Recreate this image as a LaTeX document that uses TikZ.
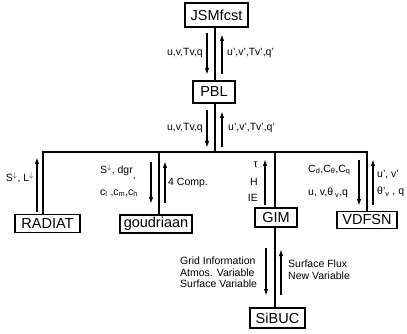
\documentclass[tikz,border=0pt]{standalone}
\usepackage{fontspec}
\setmainfont{Liberation Sans}
\usetikzlibrary{arrows.meta}
\begin{document}
\begin{tikzpicture}[x=1pt,y=-1pt,
  box/.style={draw,line width=1.8pt,inner sep=0pt,font=\fontsize{14.5}{16}\selectfont},
  lbl/.style={inner sep=0pt,font=\fontsize{10.5}{11.5}\selectfont},
  conn/.style={line width=1.5pt},
  flow/.style={line width=1.6pt,-{Latex[length=7pt,width=4.5pt]}}]
\useasboundingbox (0,0) rectangle (407,334);
% boxes
\node[box,minimum width=63pt,minimum height=24pt] (JSM) at (216.5,15) {JSMfcst};
\node[box,minimum width=42pt,minimum height=22pt] (PBL) at (214,92) {PBL};
\node[box,minimum width=65pt,minimum height=18pt] (RAD) at (47.5,223.5) {RADIAT};
\node[box,minimum width=72pt,minimum height=18pt] (GOU) at (156,224) {goudriaan};
\node[box,minimum width=42pt,minimum height=19pt] (GIM) at (276,217.5) {GIM};
\node[box,minimum width=60pt,minimum height=17pt] (VDF) at (367,220) {VDFSN};
\node[box,minimum width=55pt,minimum height=20pt] (SIB) at (277.5,318) {SiBUC};
% bus
\coordinate (b0) at (215,152);
\coordinate (b1) at (43,152);
\coordinate (b2) at (159,152);
\coordinate (b3) at (275,152);
\coordinate (b4) at (367,152);
\draw[conn] (b0 |- JSM.south) -- (b0 |- PBL.north);
\draw[conn] (b0 |- PBL.south) -- (b0);
\draw[conn] (b1 |- RAD.north) -- (b1) -- (b4) -- (b4 |- VDF.north);
\draw[conn] (b2) -- (b2 |- GOU.north);
\draw[conn] (b3) -- (b3 |- GIM.north);
\draw[conn] (b3 |- GIM.south) -- (b3 |- SIB.north);
% flow arrows
\draw[flow] (207,33) -- (207,75);
\draw[flow] (222,74) -- (222,34);
\draw[flow] (207,110) -- (207,148);
\draw[flow] (222,147) -- (222,111);
\draw[flow] (37,212) -- (37,157);
\draw[flow] (151,162) -- (151,204);
\draw[flow] (165,203) -- (165,161);
\draw[flow] (265,205) -- (265,159);
\draw[flow] (359,160) -- (359,206);
\draw[flow] (373,205) -- (373,159);
\draw[flow] (266,248) -- (266,296);
\draw[flow] (281,295) -- (281,249);
% labels
\node[lbl,anchor=east] (l1) at (203,53) {u,v,Tv,q};
\node[lbl,anchor=west] (l2) at (227,53) {u',v',Tv',q'};
\node[lbl,anchor=east] (l3) at (203,128) {u,v,Tv,q};
\node[lbl,anchor=west] (l4) at (228,128) {u',v',Tv',q'};
\node[lbl,anchor=east] (l5) at (34,178) {S$^{\downarrow}$, L$^{\downarrow}$};
\node[lbl,anchor=west] (l6) at (100,172) {S$^{\downarrow}$, dgr\raisebox{-5pt}{,}};
\node[lbl,anchor=west] (l7) at (100,193) {c\textsubscript{l} ,c\textsubscript{m},c\textsubscript{h}};
\node[lbl,anchor=west] (l8) at (168,183) {4 Comp.};
\node[lbl,anchor=east] (l9) at (258,165) {τ};
\node[lbl,anchor=east] (l10) at (258,182) {H};
\node[lbl,anchor=east] (l11) at (258,198) {IE};
\node[lbl,anchor=west] (l12) at (308,170) {C\textsubscript{d},C\textsubscript{θ},C\textsubscript{q}};
\node[lbl,anchor=west] (l13) at (308,193) {u, v,θ\textsubscript{ v},q};
\node[lbl,anchor=west] (l14) at (377,175) {u', v'};
\node[lbl,anchor=west] (l15) at (377,192) {θ'\textsubscript{v} , q};
\node[lbl,anchor=north west,align=left] (l16) at (180,257) {Grid Information\\Atmos. Variable\\Surface Variable};
\node[lbl,anchor=north west,align=left] (l17) at (288,260) {Surface Flux\\New Variable};
\end{tikzpicture}
\end{document}
